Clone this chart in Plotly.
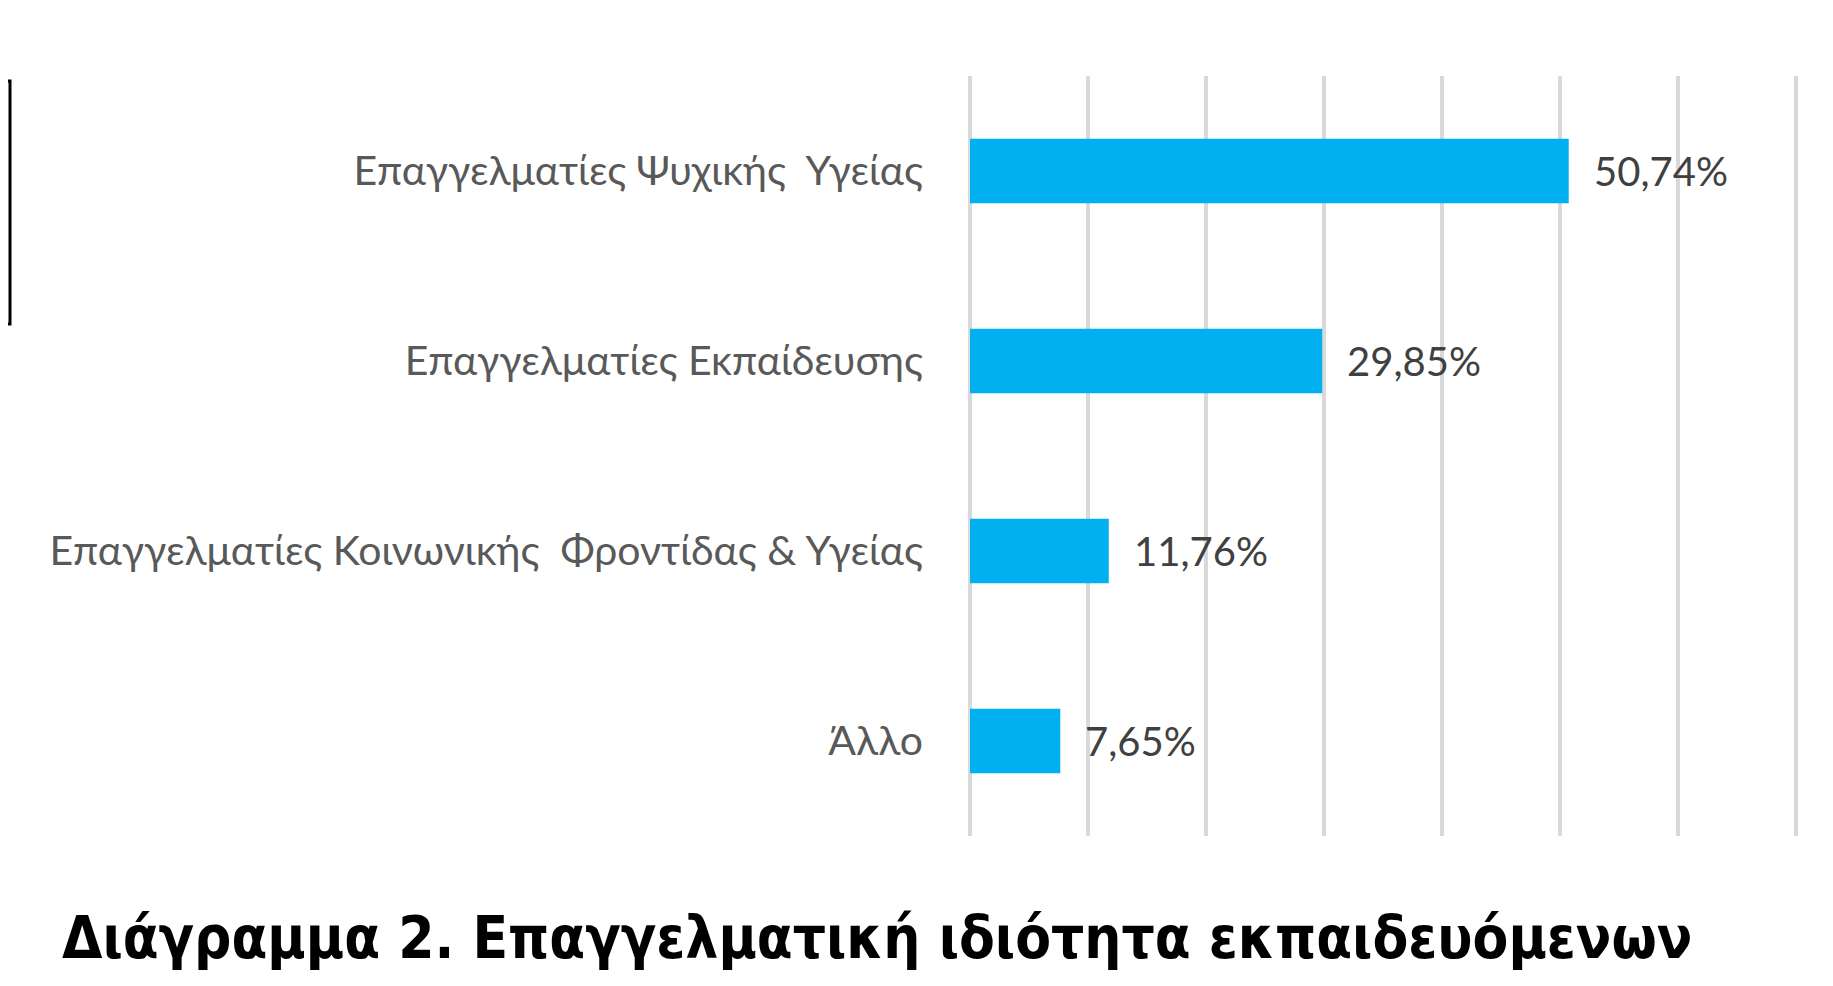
import plotly.graph_objects as go

categories = [
    "Επαγγελματίες Ψυχικής  Υγείας",
    "Επαγγελματίες Εκπαίδευσης",
    "Επαγγελματίες Κοινωνικής  Φροντίδας & Υγείας",
    "Άλλο",
]
values = [50.74, 29.85, 11.76, 7.65]
x_ticks = [0, 10, 20, 30, 40, 50, 60, 70]
title_text = "Διάγραμμα 2. Επαγγελματική ιδιότητα εκπαιδευόμενων"

# page body has an 8px margin: figure coordinates = screen - 8
W, H = 1817, 970
L, R, T, B = 960, 27, 68, 142
pw = W - L - R
ph = H - T - B

fig = go.Figure()
fig.add_trace(go.Bar(
    x=values, y=categories, orientation="h",
    marker=dict(color="#00B0F0", line=dict(width=0)),
    hoverinfo="skip",
))

for c, v in zip(categories, values):
    fig.add_annotation(
        x=v, y=c, xref="x", yref="y",
        text=f"{v:.2f}".replace(".", ",") + "%",
        showarrow=False, xanchor="left", yanchor="middle", xshift=23,
        font=dict(family="Lato", size=40, color="#404040"),
    )

fig.add_annotation(
    x=(52 - L) / pw, y=(828 - 894) / ph,
    xref="paper", yref="paper",
    text=title_text,
    showarrow=False, xanchor="left", yanchor="top",
    font=dict(family="DejaVu Sans Condensed", size=58, color="#000000", weight=700),
)

fig.add_shape(
    type="rect", xref="paper", yref="paper",
    x0=(-30 - L) / pw, x1=(2 - L) / pw,
    y0=(828 - 316) / ph, y1=(828 - 73) / ph,
    line=dict(color="#000000", width=3), fillcolor="rgba(0,0,0,0)",
)

fig.update_layout(
    width=W, height=H,
    margin=dict(l=L, r=R, t=T, b=B, pad=0),
    paper_bgcolor="white", plot_bgcolor="white",
    showlegend=False,
    bargap=0.66,
    xaxis=dict(
        range=[-0.17, 70.17], tickvals=x_ticks, showticklabels=False,
        showgrid=True, gridcolor="#D9D9D9", gridwidth=4,
        zeroline=False, showline=False, fixedrange=True,
    ),
    yaxis=dict(
        categoryorder="array", categoryarray=categories[::-1],
        showgrid=False, zeroline=False, showline=False, ticks="",
        tickfont=dict(family="Lato", size=41, color="#595959"),
        ticklabelstandoff=44, fixedrange=True,
    ),
)

fig.write_html("out.html", config={"displayModeBar": False})
